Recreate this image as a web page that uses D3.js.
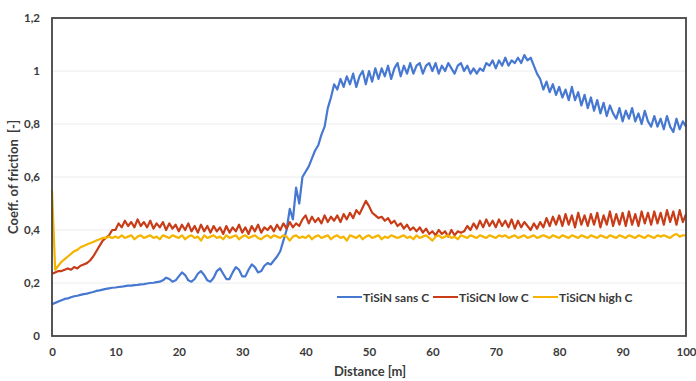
<!DOCTYPE html>
<html><head><meta charset="utf-8">
<script src="https://cdn.jsdelivr.net/npm/d3@7"></script>
<style>body{margin:0;background:#fff}svg{display:block}text{font-family:Lato,"Open Sans",sans-serif;font-weight:bold;fill:#3a3a3a}</style>
</head><body><svg id="c" width="696" height="381"></svg>
<script>
// x step of every series: 0.5 m, starting at 0
const step = 0.5;
const seriesNames = ["TiSiN sans C", "TiSiCN low C", "TiSiCN high C"];
const xTicks = [0,10,20,30,40,50,60,70,80,90,100];
const yTicks = [0,0.2,0.4,0.6,0.8,1,1.2];
const yTickLabels = ["0","0,2","0,4","0,6","0,8","1","1,2"];

const tisinSansC = [
0.12,0.125,0.13,0.135,0.14,0.142,0.146,0.15,0.152,0.155,
0.158,0.16,0.163,0.166,0.17,0.172,0.175,0.178,0.18,0.182,
0.183,0.185,0.186,0.188,0.19,0.19,0.192,0.193,0.195,0.196,
0.198,0.2,0.201,0.203,0.205,0.21,0.22,0.215,0.205,0.21,
0.225,0.24,0.23,0.21,0.205,0.215,0.235,0.245,0.23,0.21,
0.205,0.22,0.245,0.255,0.235,0.215,0.215,0.24,0.26,0.25,
0.225,0.225,0.25,0.27,0.26,0.24,0.245,0.265,0.275,0.27,
0.285,0.3,0.32,0.36,0.40,0.48,0.44,0.56,0.50,0.60,
0.62,0.64,0.67,0.70,0.72,0.76,0.79,0.86,0.90,0.95,
0.93,0.97,0.94,0.98,0.95,0.99,0.94,0.98,1.0,0.95,
1.0,0.96,1.01,0.97,1.01,0.98,1.02,0.97,1.01,1.03,
0.98,1.02,0.99,1.03,0.99,1.02,1.03,0.99,1.02,1.03,
1.0,1.03,0.99,1.02,1.0,1.03,1.01,0.99,1.02,1.03,
1.0,1.02,0.99,1.01,0.99,1.01,1.0,1.03,1.02,1.04,
1.01,1.04,1.02,1.05,1.02,1.04,1.03,1.05,1.03,1.06,
1.04,1.05,1.02,0.99,0.97,0.93,0.96,0.92,0.95,0.91,
0.94,0.9,0.93,0.89,0.94,0.89,0.92,0.87,0.91,0.86,
0.9,0.85,0.89,0.84,0.88,0.83,0.87,0.84,0.82,0.86,
0.81,0.85,0.82,0.86,0.81,0.84,0.8,0.85,0.81,0.79,
0.83,0.79,0.82,0.78,0.83,0.79,0.77,0.82,0.78,0.81,
0.79];

const tisicnLowC = [
0.235,0.24,0.245,0.245,0.25,0.255,0.25,0.26,0.255,0.265,
0.27,0.275,0.285,0.3,0.32,0.34,0.36,0.37,0.38,0.40,
0.40,0.425,0.41,0.435,0.415,0.43,0.41,0.44,0.415,0.43,
0.41,0.435,0.405,0.425,0.41,0.43,0.4,0.425,0.405,0.42,
0.395,0.42,0.4,0.425,0.395,0.415,0.39,0.42,0.395,0.415,
0.39,0.415,0.395,0.41,0.385,0.415,0.39,0.41,0.395,0.42,
0.39,0.41,0.385,0.415,0.395,0.42,0.39,0.41,0.4,0.415,
0.395,0.42,0.40,0.425,0.405,0.43,0.41,0.425,0.415,0.44,
0.455,0.425,0.45,0.43,0.445,0.425,0.455,0.43,0.45,0.435,
0.455,0.43,0.46,0.44,0.465,0.445,0.475,0.46,0.485,0.51,
0.49,0.465,0.455,0.445,0.45,0.435,0.445,0.425,0.435,0.415,
0.425,0.405,0.42,0.4,0.41,0.395,0.41,0.39,0.405,0.385,
0.395,0.38,0.4,0.385,0.395,0.375,0.4,0.38,0.395,0.39,
0.395,0.415,0.4,0.425,0.405,0.435,0.41,0.44,0.415,0.435,
0.41,0.44,0.415,0.435,0.41,0.44,0.405,0.435,0.41,0.43,
0.415,0.40,0.425,0.405,0.43,0.41,0.445,0.415,0.45,0.42,
0.455,0.415,0.46,0.42,0.455,0.41,0.465,0.42,0.455,0.415,
0.46,0.42,0.465,0.41,0.455,0.42,0.47,0.415,0.46,0.42,
0.465,0.415,0.47,0.42,0.46,0.415,0.47,0.425,0.465,0.42,
0.47,0.425,0.465,0.42,0.475,0.43,0.47,0.42,0.475,0.43,
0.46];

const tisicnHighC = [
0.55,0.25,0.265,0.28,0.29,0.3,0.31,0.32,0.325,0.335,
0.34,0.345,0.35,0.355,0.36,0.365,0.37,0.37,0.375,0.37,
0.375,0.37,0.38,0.37,0.375,0.38,0.365,0.375,0.38,0.37,
0.375,0.38,0.37,0.375,0.365,0.38,0.375,0.37,0.38,0.375,
0.37,0.38,0.365,0.375,0.38,0.37,0.375,0.36,0.38,0.37,
0.375,0.38,0.37,0.375,0.365,0.38,0.37,0.375,0.38,0.365,
0.375,0.38,0.37,0.375,0.38,0.37,0.365,0.375,0.38,0.37,
0.38,0.375,0.37,0.38,0.375,0.36,0.375,0.38,0.37,0.375,
0.37,0.38,0.365,0.375,0.38,0.37,0.375,0.38,0.365,0.375,
0.38,0.37,0.375,0.36,0.38,0.375,0.37,0.38,0.365,0.375,
0.38,0.37,0.375,0.38,0.365,0.375,0.37,0.38,0.375,0.37,
0.375,0.38,0.37,0.375,0.365,0.38,0.37,0.375,0.38,0.37,
0.36,0.375,0.38,0.37,0.375,0.38,0.37,0.375,0.365,0.38,
0.375,0.37,0.38,0.375,0.37,0.38,0.375,0.37,0.38,0.375,
0.37,0.38,0.375,0.38,0.37,0.375,0.38,0.37,0.375,0.38,
0.37,0.375,0.38,0.37,0.375,0.38,0.375,0.37,0.38,0.375,
0.37,0.38,0.375,0.37,0.38,0.375,0.37,0.38,0.375,0.37,
0.38,0.375,0.37,0.38,0.375,0.37,0.38,0.375,0.37,0.38,
0.375,0.37,0.38,0.375,0.37,0.38,0.375,0.37,0.38,0.375,
0.37,0.38,0.375,0.38,0.375,0.37,0.38,0.385,0.375,0.38,
0.38];

const colors = ["#4677d1","#c83c18","#f4b400"];
const allSeries = [tisinSansC, tisicnLowC, tisicnHighC];

const svg = d3.select("#c");
const L = 52, R = 686, T = 18, B = 336;
const x = d3.scaleLinear().domain([0,100]).range([L,R]);
const y = d3.scaleLinear().domain([0,1.2]).range([B,T]);

// gridlines
svg.append("g").selectAll("line").data(yTicks.slice(1,-1)).join("line")
  .attr("x1",L).attr("x2",R).attr("y1",d=>y(d)).attr("y2",d=>y(d))
  .attr("stroke","#ececec").attr("stroke-width",1);

// axes
const yAxis = d3.axisLeft(y).tickValues(yTicks).tickFormat((d,i)=>yTickLabels[i]).tickSize(0).tickPadding(12);
const gy = svg.append("g").attr("transform",`translate(${L},0)`).call(yAxis);
gy.select(".domain").remove();
gy.selectAll("text").attr("font-size",11.5).style("font-family","Lato,sans-serif");

const xAxis = d3.axisBottom(x).tickValues(xTicks).tickSize(0).tickPadding(12);
const gx = svg.append("g").attr("transform",`translate(0,${B})`).call(xAxis);
gx.select(".domain").remove();
gx.selectAll("text").attr("font-size",11.5).style("font-family","Lato,sans-serif");

// lines
const line = d3.line().x((d,i)=>x(i*step)).y(d=>y(d));
svg.append("g").selectAll("path").data(allSeries).join("path")
  .attr("d",d=>line(d)).attr("fill","none")
  .attr("stroke",(d,i)=>colors[i]).attr("stroke-width",2.2).attr("stroke-linejoin","round");

// frame
svg.append("rect").attr("x",L).attr("y",T).attr("width",R-L).attr("height",B-T)
  .attr("fill","none").attr("stroke","#444").attr("stroke-width",1.8);

// axis titles
svg.append("text").attr("x",370).attr("y",376).attr("text-anchor","middle").attr("font-size",13).text("Distance [m]");
svg.append("text").attr("transform",`translate(18,${(T+B)/2}) rotate(-90)`).attr("text-anchor","middle").attr("font-size",13)
  .style("white-space","pre").text("Coeff. of friction  [-]");

// legend
const legX = [337, 433, 533];
const lg = svg.append("g").selectAll("g").data(seriesNames).join("g")
  .attr("transform",(d,i)=>`translate(${legX[i]},297)`);
lg.append("line").attr("x1",0).attr("x2",25).attr("y1",0).attr("y2",0)
  .attr("stroke",(d,i)=>colors[i]).attr("stroke-width",2);
lg.append("text").attr("x",26).attr("y",4.5).attr("font-size",12).text(d=>d);
</script></body></html>
